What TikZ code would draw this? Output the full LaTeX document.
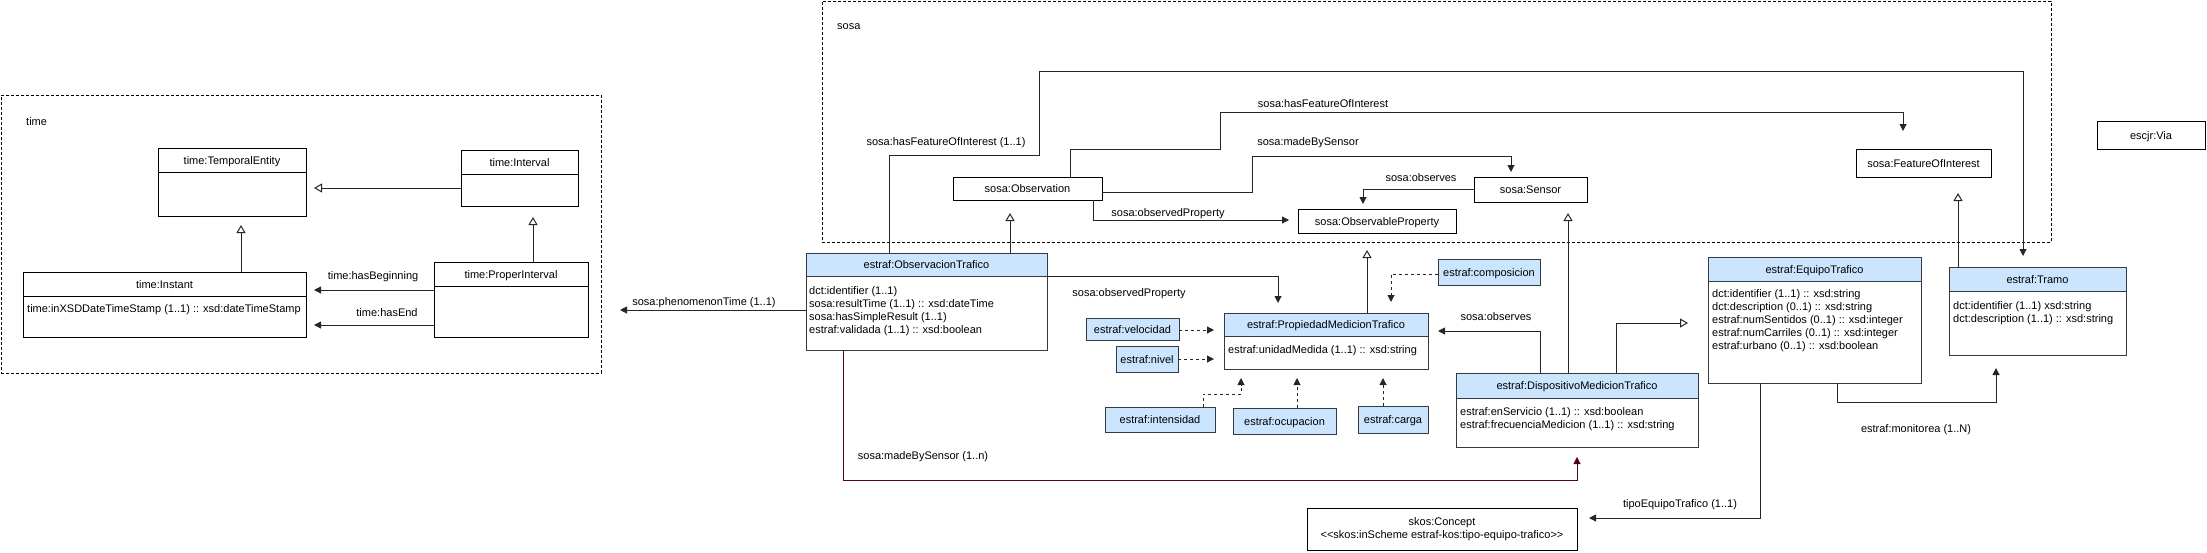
\documentclass[tikz,border=0pt]{standalone}
\usepackage{fontspec}
\setmainfont{Liberation Sans}[Ligatures=TeXOff]
\usetikzlibrary{arrows.meta,calc}
\newcommand{\fsz}{\fontsize{11pt}{13pt}\selectfont}
\definecolor{hdrblue}{RGB}{204,229,255}
\definecolor{edgegray}{RGB}{54,57,61}
\definecolor{mbsred}{RGB}{85,0,35}
\newcommand{\umlcls}[8]{%
  \node[box, #7, fill=white, minimum width=#4pt, minimum height=#5pt] (#1) at (#2,#3) {};
  \draw[line width=1pt, #7] (#1.north west) rectangle ($(#1.north east)+(0,#6)$);
  \node[lbl] (#1-t) at ($(#1.north)+(0,#6/2)$) {#8};
}
\tikzset{
  pkg/.style={draw=black, line width=1pt, dash pattern=on 3pt off 2pt, inner sep=0, outer sep=0, anchor=north west},
  box/.style={draw=black, line width=1pt, fill=white, inner sep=0, outer sep=0, anchor=north west},
  hdrB/.style={fill=hdrblue, draw=edgegray},
  hdrW/.style={fill=white, draw=black},
  lbl/.style={inner sep=0, text height=8pt, text depth=0pt},
  attr/.style={inner sep=0, anchor=north west, align=left},
  wbox/.style={box, text height=8pt, text depth=0pt},
  sbox/.style={box, fill=hdrblue, draw=edgegray, text height=8pt, text depth=0pt},
  conn/.style={draw=black!85, line width=1pt, -{Triangle[length=7pt,width=7pt]}},
  inh/.style={draw=black!85, line width=1pt, -{Triangle[open,length=8pt,width=9pt,fill=white]}},
  dep/.style={conn, dash pattern=on 3pt off 3pt},
}
\begin{document}
\begin{tikzpicture}[x=1pt,y=-1pt,font=\fsz]
\useasboundingbox (0,0) rectangle (2207,552);

% ---------- packages ----------
\node[pkg, minimum width=600pt, minimum height=278pt] (timepkg) at (1,95) {};
\node[lbl, anchor=west] (timepkg-l) at (26,121) {time};
\node[pkg, minimum width=1229pt, minimum height=241pt] (sosapkg) at (822,1) {};
\node[lbl, anchor=west] (sosapkg-l) at (837,25) {sosa};

% ---------- time classes ----------
\umlcls{te}{158}{148}{148}{68}{24}{hdrW}{time:TemporalEntity}
\umlcls{ti}{461}{150}{117}{56}{24}{hdrW}{time:Interval}
\umlcls{tin}{23}{272}{283}{65}{24}{hdrW}{time:Instant}
\node[attr] (tin-a) at (27,304) {time:inXSDDateTimeStamp (1..1) :: xsd:dateTimeStamp};
\umlcls{tpi}{434}{262}{154}{75}{24}{hdrW}{time:ProperInterval}

% ---------- sosa classes ----------
\node[wbox, minimum width=149pt, minimum height=23pt] (obs) at (953,177) {sosa:Observation};
\node[wbox, minimum width=158pt, minimum height=24pt] (obsprop) at (1298,209) {sosa:ObservableProperty};
\node[wbox, minimum width=113pt, minimum height=25pt] (sensor) at (1474,177) {sosa:Sensor};
\node[wbox, minimum width=135pt, minimum height=28pt] (foi) at (1856,149) {sosa:FeatureOfInterest};
\node[wbox, minimum width=108pt, minimum height=28pt] (via) at (2097,121) {escjr:Via};

% ---------- estraf classes ----------
\umlcls{ot}{806}{253}{241}{97}{23}{hdrB}{estraf:ObservacionTrafico}
\node[attr] (ot-a) at (809,286) {dct:identifier (1..1)\\sosa:resultTime (1..1) :: xsd:dateTime\\sosa:hasSimpleResult (1..1)\\estraf:validada (1..1) :: xsd:boolean};
\umlcls{pmt}{1224}{313}{204}{56}{23}{hdrB}{estraf:PropiedadMedicionTrafico}
\node[attr] (pmt-a) at (1228,345) {estraf:unidadMedida (1..1) :: xsd:string};
\umlcls{dmt}{1456}{373}{242}{74}{25}{hdrB}{estraf:DispositivoMedicionTrafico}
\node[attr] (dmt-a) at (1460,407) {estraf:enServicio (1..1) :: xsd:boolean\\estraf:frecuenciaMedicion (1..1) :: xsd:string};
\umlcls{et}{1708}{257}{213}{126}{24}{hdrB}{estraf:EquipoTrafico}
\node[attr] (et-a) at (1712,289) {dct:identifier (1..1) :: xsd:string\\dct:description (0..1) :: xsd:string\\estraf:numSentidos (0..1) :: xsd:integer\\estraf:numCarriles (0..1) :: xsd:integer\\estraf:urbano (0..1) :: xsd:boolean};
\umlcls{tramo}{1949}{267}{177}{88}{24}{hdrB}{estraf:Tramo}
\node[attr] (tramo-a) at (1953,301) {dct:identifier (1..1) xsd:string\\dct:description (1..1) :: xsd:string};

\node[sbox, minimum width=93pt, minimum height=22pt] (vel) at (1086,318) {estraf:velocidad};
\node[sbox, minimum width=62pt, minimum height=26pt] (niv) at (1116,346) {estraf:nivel};
\node[sbox, minimum width=110pt, minimum height=25pt] (inten) at (1105,407) {estraf:intensidad};
\node[sbox, minimum width=103pt, minimum height=26pt] (ocup) at (1233,408) {estraf:ocupacion};
\node[sbox, minimum width=70pt, minimum height=27pt] (carga) at (1358,406) {estraf:carga};
\node[sbox, minimum width=102pt, minimum height=26pt] (comp) at (1438,259) {estraf:composicion};

\node[box, minimum width=270pt, minimum height=42pt, align=center] (skos) at (1307,508) {skos:Concept\\<<skos:inScheme estraf-kos:tipo-equipo-trafico>>};

% ---------- time connectors ----------
\draw[inh, shorten >=8pt] (ti.west |- 0,188) -- (te.east |- 0,188);
\draw[inh, shorten >=9pt] (241,0 |- tin.north) -- (241,0 |- te.south);
\draw[inh, shorten >=11pt] (533,0 |- tpi.north) -- (533,0 |- ti.south);
\draw[conn, shorten >=8pt] (tpi.west |- 0,290) -- (tin.east |- 0,290);
\node[lbl] (l-hb) at (373,275) {time:hasBeginning};
\draw[conn, shorten >=8pt] (tpi.west |- 0,325) -- (tin.east |- 0,325);
\node[lbl] (l-he) at (387,312) {time:hasEnd};

% ---------- sosa connectors ----------
\draw[conn, shorten >=11pt] (889,0 |- ot.north) -- (889,155) -- (1039,155) -- (1039,71) -- (2023,71) -- (2023,0 |- tramo.north);
\node[lbl] (l-hfoi1) at (946,141) {sosa:hasFeatureOfInterest (1..1)};
\draw[conn, shorten >=18pt] (1070,0 |- obs.north) -- (1070,149) -- (1220,149) -- (1220,112) -- (1903,112) -- (1903,0 |- foi.north);
\node[lbl] (l-hfoi) at (1323,103) {sosa:hasFeatureOfInterest};
\draw[conn, shorten >=5pt] (obs.east |- 0,192) -- (1252,192) -- (1252,156) -- (1511,156) -- (1511,0 |- sensor.north);
\node[lbl] (l-mbs) at (1308,141) {sosa:madeBySensor};
\draw[conn, shorten >=9pt] (1093,0 |- obs.south) -- (1093,220) -- (obsprop.west |- 0,220);
\node[lbl] (l-op) at (1168,212) {sosa:observedProperty};
\draw[conn, shorten >=5pt] (sensor.west |- 0,189) -- (1363,189) -- (1363,0 |- obsprop.north);
\node[lbl] (l-obs) at (1421,177) {sosa:observes};

% ---------- inheritance ----------
\draw[inh, shorten >=13pt] (1010,0 |- ot.north) -- (1010,0 |- obs.south);
\draw[inh, shorten >=17pt] (1367,0 |- pmt.north) -- (1367,0 |- obsprop.south);
\draw[inh, shorten >=11pt] (1568,0 |- dmt.north) -- (1568,0 |- sensor.south);
\draw[inh, shorten >=16pt] (1958,0 |- tramo.north) -- (1958,0 |- foi.south);
\draw[inh, shorten >=20pt] (1616,0 |- dmt.north) -- (1616,323) -- (et.west |- 0,323);

% ---------- estraf connectors ----------
\draw[conn, shorten >=10pt] (ot.east |- 0,276) -- (1278,276) -- (1278,0 |- pmt.north);
\node[lbl] (l-op2) at (1129,292) {sosa:observedProperty};
\draw[conn, shorten >=10pt] (1540,0 |- dmt.north) -- (1540,331) -- (pmt.east |- 0,331);
\node[lbl] (l-obs2) at (1496,316) {sosa:observes};
\draw[dep, shorten >=10pt] (vel.east |- 0,330) -- (pmt.west |- 0,330);
\draw[dep, shorten >=10pt] (niv.east |- 0,359) -- (pmt.west |- 0,359);
\draw[dep, shorten >=9pt] (1203,0 |- inten.north) -- (1203,394) -- (1241,394) -- (1241,0 |- pmt.south);
\draw[dep, shorten >=9pt] (1297,0 |- ocup.north) -- (1297,0 |- pmt.south);
\draw[dep, shorten >=9pt] (1383,0 |- carga.north) -- (1383,0 |- pmt.south);
\draw[dep, shorten >=11pt] (comp.west |- 0,274) -- (1391,274) -- (1391,0 |- pmt.north);

\draw[conn, shorten >=19pt] (ot.west |- 0,310) -- (timepkg.east |- 0,310);
\node[lbl] (l-pt) at (704,301) {sosa:phenomenonTime (1..1)};
\draw[conn, draw=mbsred, shorten >=10pt] (843,0 |- ot.south) -- (843,480) -- (1577,480) -- (1577,0 |- dmt.south);
\node[lbl] (l-mbs2) at (923,455) {sosa:madeBySensor (1..n)};
\draw[conn, shorten >=13pt] (1837,0 |- et.south) -- (1837,402) -- (1996,402) -- (1996,0 |- tramo.south);
\node[lbl] (l-mon) at (1916,428) {estraf:monitorea (1..N)};
\draw[conn, shorten >=12pt] (1760,0 |- et.south) -- (1760,518) -- (skos.east |- 0,518);
\node[lbl] (l-tipo) at (1680,503) {tipoEquipoTrafico (1..1)};
\end{tikzpicture}
\end{document}
